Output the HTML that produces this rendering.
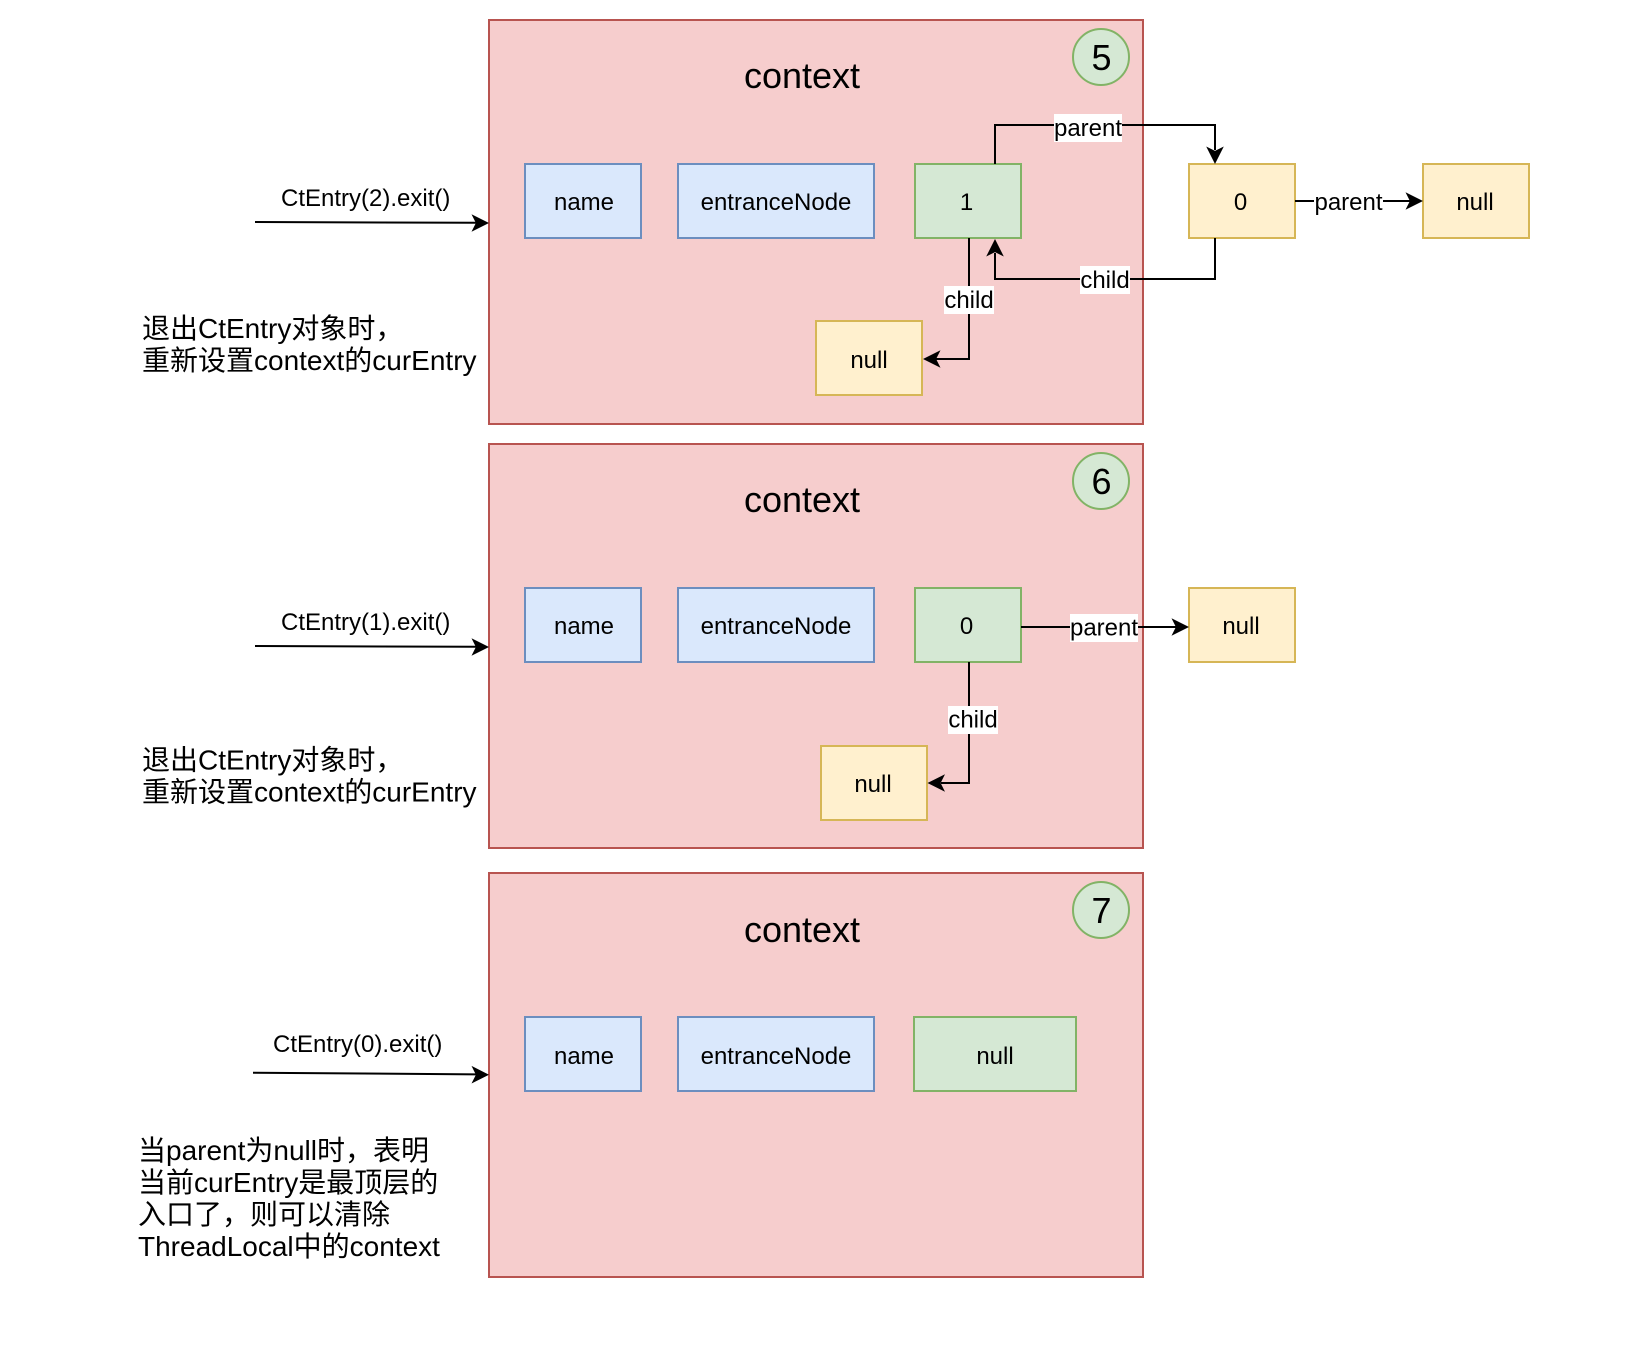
<!DOCTYPE html>
<html>
<head>
<meta charset="utf-8">
<style>
html,body{margin:0;padding:0;background:#fff;width:1638px;height:1348px;overflow:hidden}
svg{display:block}
text{font-family:"Liberation Sans","Noto Sans CJK SC",sans-serif;fill:#000}
.ctr{text-anchor:middle}
.m{font-size:24px}
.b{font-size:36px}
.t{font-size:28px}
.red{fill:#f6cdcd;stroke:#b85450;stroke-width:2}
.blue{fill:#dae8fc;stroke:#6c8ebf;stroke-width:2}
.green{fill:#d5e8d4;stroke:#82b366;stroke-width:2}
.yellow{fill:#fff0ce;stroke:#d6b656;stroke-width:2}
.l{fill:none;stroke:#000;stroke-width:2}
</style>
</head>
<body>
<svg width="1638" height="1348" viewBox="0 0 1638 1348" xmlns="http://www.w3.org/2000/svg">
<rect width="1638" height="1348" fill="#fff"/>

<!-- Panel 5 -->
<rect class="red" x="489" y="20" width="654" height="404"/>
<text class="b ctr" x="802" y="88">context</text>
<ellipse class="green" cx="1101" cy="57" rx="28" ry="28"/>
<text class="b ctr" x="1101.500" y="70">5</text>
<rect class="blue" x="525" y="164" width="116" height="74"/>
<text class="m ctr" x="584" y="210">name</text>
<rect class="blue" x="678" y="164" width="196" height="74"/>
<text class="m ctr" x="776" y="210">entranceNode</text>
<rect class="green" x="915" y="164" width="106" height="74"/>
<text class="m ctr" x="966.500" y="210">1</text>
<rect class="yellow" x="1189" y="164" width="106" height="74"/>
<text class="m ctr" x="1240.500" y="210">0</text>
<rect class="yellow" x="1423" y="164" width="106" height="74"/>
<text class="m ctr" x="1475" y="210">null</text>
<rect class="yellow" x="816" y="321" width="106" height="74"/>
<text class="m ctr" x="869" y="368">null</text>

<path class="l" d="M995 164V125H1215V150"/>
<path d="M1215 164l-8.800-17.500 8.800 4.400 8.800-4.400z"/>
<rect x="1054" y="114" width="68" height="28" fill="#fff"/>
<text class="m ctr" x="1088" y="136">parent</text>

<path class="l" d="M1215 238V279H995V253"/>
<path d="M995 239l-8.800 17.500 8.800-4.400 8.800 4.400z"/>
<rect x="1080" y="266" width="50" height="28" fill="#fff"/>
<text class="m ctr" x="1105" y="288">child</text>

<path class="l" d="M969 238V359H936"/>
<path d="M923 359l17.500-8.800-4.400 8.800 4.400 8.800z"/>
<rect x="944" y="286" width="50" height="28" fill="#fff"/>
<text class="m ctr" x="969" y="308">child</text>

<path class="l" d="M1295 201H1410"/>
<path d="M1423 201l-17.500-8.800 4.400 8.800-4.400 8.800z"/>
<rect x="1314" y="188" width="69" height="28" fill="#fff"/>
<text class="m ctr" x="1348.500" y="210">parent</text>

<path class="l" d="M255 222L476 222.800"/>
<path d="M489 223l-17.500-8.800 4.400 8.800-4.400 8.800z"/>
<text class="m" x="281" y="206">CtEntry(2).exit()</text>
<text class="t" x="142" y="338">退出CtEntry对象时，</text>
<text class="t" x="142" y="370">重新设置context的curEntry</text>

<!-- Panel 6 -->
<rect class="red" x="489" y="444" width="654" height="404"/>
<text class="b ctr" x="802" y="512">context</text>
<ellipse class="green" cx="1101" cy="481" rx="28" ry="28"/>
<text class="b ctr" x="1101.500" y="494">6</text>
<rect class="blue" x="525" y="588" width="116" height="74"/>
<text class="m ctr" x="584" y="634">name</text>
<rect class="blue" x="678" y="588" width="196" height="74"/>
<text class="m ctr" x="776" y="634">entranceNode</text>
<rect class="green" x="915" y="588" width="106" height="74"/>
<text class="m ctr" x="966.500" y="634">0</text>
<rect class="yellow" x="1189" y="588" width="106" height="74"/>
<text class="m ctr" x="1241" y="634">null</text>
<rect class="yellow" x="821" y="746" width="106" height="74"/>
<text class="m ctr" x="873" y="792">null</text>

<path class="l" d="M1021 627H1176"/>
<path d="M1189 627l-17.500-8.800 4.400 8.800-4.400 8.800z"/>
<rect x="1070" y="614" width="68" height="28" fill="#fff"/>
<text class="m ctr" x="1104" y="635.500">parent</text>

<path class="l" d="M969 662V783H941"/>
<path d="M927.500 783l17.500-8.800-4.400 8.800 4.400 8.800z"/>
<rect x="948" y="706" width="50" height="28" fill="#fff"/>
<text class="m ctr" x="973" y="727.500">child</text>

<path class="l" d="M255 646L476 646.800"/>
<path d="M489 647l-17.500-8.800 4.400 8.800-4.400 8.800z"/>
<text class="m" x="281" y="630">CtEntry(1).exit()</text>
<text class="t" x="142" y="769.500">退出CtEntry对象时，</text>
<text class="t" x="142" y="801.500">重新设置context的curEntry</text>

<!-- Panel 7 -->
<rect class="red" x="489" y="873" width="654" height="404"/>
<text class="b ctr" x="802" y="942">context</text>
<ellipse class="green" cx="1101" cy="910" rx="28" ry="28"/>
<text class="b ctr" x="1101.500" y="923">7</text>
<rect class="blue" x="525" y="1017" width="116" height="74"/>
<text class="m ctr" x="584" y="1064">name</text>
<rect class="blue" x="678" y="1017" width="196" height="74"/>
<text class="m ctr" x="776" y="1064">entranceNode</text>
<rect class="green" x="914" y="1017" width="162" height="74"/>
<text class="m ctr" x="995" y="1064">null</text>

<path class="l" d="M253 1072.700L476 1074.400"/>
<path d="M489 1074.700l-17.500-8.800 4.400 8.800-4.400 8.800z"/>
<text class="m" x="273" y="1052">CtEntry(0).exit()</text>
<text class="t" x="138" y="1160">当parent为null时，表明</text>
<text class="t" x="138" y="1192">当前curEntry是最顶层的</text>
<text class="t" x="138" y="1224">入口了，则可以清除</text>
<text class="t" x="138" y="1256">ThreadLocal中的context</text>
</svg>
</body>
</html>
